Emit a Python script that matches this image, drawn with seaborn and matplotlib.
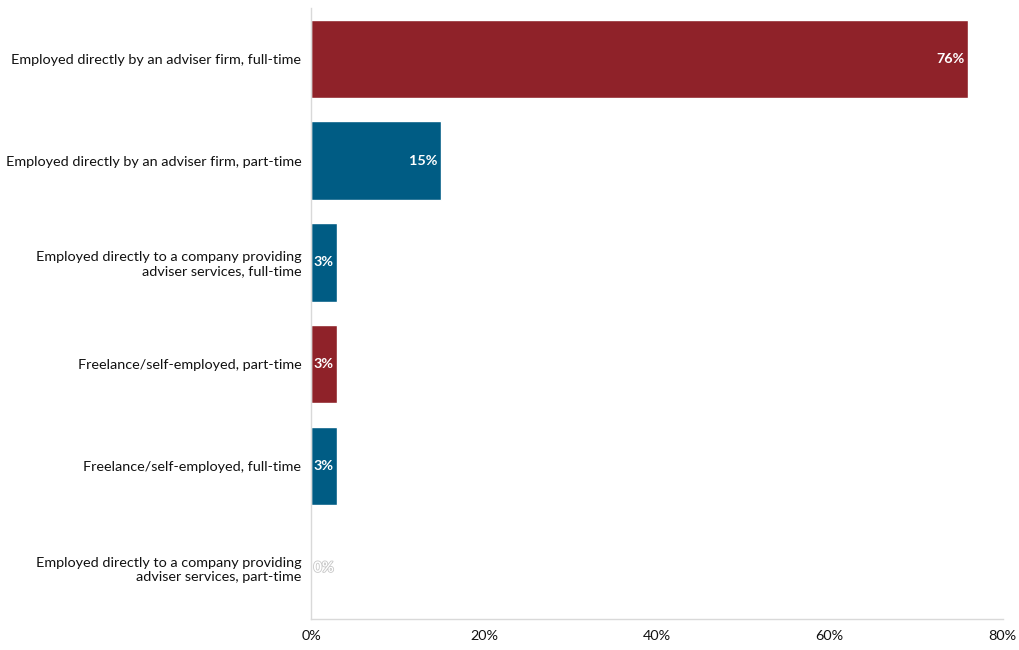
import pandas as pd
import seaborn as sns
import matplotlib.pyplot as plt
import matplotlib.patheffects as pe

sns.set_theme(style="white")
plt.rcParams["font.family"] = ["Lato", "DejaVu Sans"]

categories = [
    "Employed directly by an adviser firm, full-time",
    "Employed directly by an adviser firm, part-time",
    "Employed directly to a company providing\nadviser services, full-time",
    "Freelance/self-employed, part-time",
    "Freelance/self-employed, full-time",
    "Employed directly to a company providing\nadviser services, part-time",
]
values = [76, 15, 3, 3, 3, 0]
bar_colors = ["#8f2229", "#005c84", "#005c84", "#8f2229", "#005c84", "#005c84"]

df = pd.DataFrame({"category": categories, "value": values})

fig, ax = plt.subplots(figsize=(10.2, 6.5), dpi=100)
fig.subplots_adjust(left=0.305, right=0.983, top=0.988, bottom=0.048)

sns.barplot(data=df, y="category", x="value", hue="category",
            palette=bar_colors, legend=False, width=0.77, ax=ax, saturation=1)

# value labels inside the bar ends
for i, v in enumerate(values):
    t = ax.text(max(v, 3) - 0.4, i, f"{v}%", ha="right", va="center",
                color="white", fontweight="bold", fontsize=10.4)
    if v == 0:
        t.set_path_effects([pe.withStroke(linewidth=1.2, foreground="#c8c8c8")])

ax.set_xlim(0, 80)
ax.set_xticks([0, 20, 40, 60, 80])
ax.set_xticklabels(["0%", "20%", "40%", "60%", "80%"])
ax.set_xlabel("")
ax.set_ylabel("")
ax.tick_params(axis="both", labelsize=10.4, colors="#111111", length=0)
ax.tick_params(axis="x", pad=8)
ax.tick_params(axis="y", pad=7)
for lbl in ax.get_yticklabels():
    lbl.set_multialignment("right")

sns.despine(ax=ax)
for s in ["left", "bottom"]:
    ax.spines[s].set_color("#d9d9d9")
    ax.spines[s].set_linewidth(1)

plt.savefig("out.png", dpi=100)
